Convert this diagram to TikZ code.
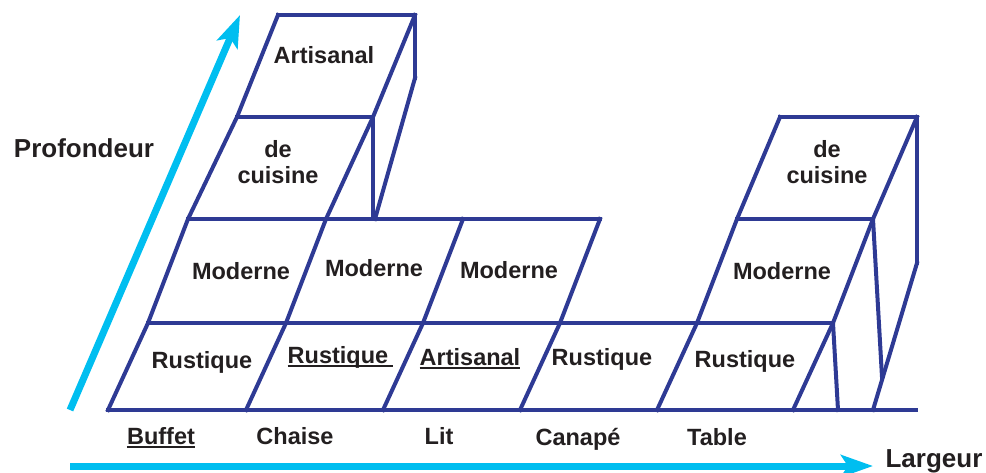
\documentclass[tikz,border=0pt]{standalone}
\usepackage{fontspec}
\setmainfont{Liberation Sans}
\usetikzlibrary{arrows.meta}
\definecolor{navy}{HTML}{2E3A94}
\definecolor{sky}{HTML}{00BEF0}
\definecolor{ink}{HTML}{231F20}
\begin{document}
\begin{tikzpicture}[x=1pt,y=-1pt,
  grid/.style={draw=navy,line width=4pt,line cap=rect,line join=miter,miter limit=3},
  lab/.style={font=\fontsize{23.5}{26}\selectfont\bfseries,text=ink,inner sep=0pt,anchor=base},
  ttl/.style={font=\fontsize{26}{28}\selectfont\bfseries,text=ink,inner sep=0pt,anchor=base},
  ul/.style={draw=ink,line width=1.5pt},
  axis/.style={draw=sky,line width=7pt,-{Stealth[length=32pt,width=22pt,inset=7pt]}}]
\useasboundingbox (0,0) rectangle (986,472);

% horizontal lines
\draw[grid] (108,410) -- (916,410);
\draw[grid] (148,323) -- (833,323);
\draw[grid] (188,219) -- (600,219);
\draw[grid] (737,219) -- (873,219);
\draw[grid] (237,117) -- (373,117);
\draw[grid] (780,117) -- (917,117);
\draw[grid] (278,15) -- (415,15);
% slanted dividers
\draw[grid] (108,410) -- (148,323) -- (188,219) -- (237,117) -- (278,15);
\draw[grid] (246,410) -- (286,323) -- (326,219) -- (373,117) -- (415,15);
\draw[grid] (383,410) -- (423,323) -- (463,219);
\draw[grid] (520,410) -- (560,323) -- (600,219);
\draw[grid] (657,410) -- (697,323) -- (737,219) -- (780,117);
\draw[grid] (793,410) -- (833,323) -- (873,219) -- (917,117);
% side faces
\draw[grid] (373,117) -- (373,219);
\draw[grid] (415,15) -- (415,78);
\draw[grid] (415,78) -- (375,219);
\draw[grid] (833,323) -- (838,410);
\draw[grid] (873,219) -- (882,377);
\draw[grid] (917,117) -- (917,263);
\draw[grid] (917,263) -- (873,410);

% axes
\coordinate (vs) at (70,410);
\coordinate (ve) at (240,15);
\coordinate (hs) at (70,466);
\coordinate (he) at (873,466);
\draw[axis] (vs) -- (ve);
\draw[axis] (hs) -- (he);
\node[ttl] (prof) at (84,157) {Profondeur};
\node[ttl] (larg) at (934,467) {Largeur};

% row 1
\node[lab] (r1) at (202,368) {Rustique};
\node[lab] (r2) at (338,363) {Rustique};
\node[lab] (r3) at (470,365) {Artisanal};
\node[lab] (r4) at (602,365) {Rustique};
\node[lab] (r5) at (745,367) {Rustique};
\draw[ul] ([yshift=-3pt]r2.base west) -- ([yshift=-3pt,xshift=5pt]r2.base east);
\draw[ul] ([yshift=-3pt]r3.base west) -- ([yshift=-3pt]r3.base east);
% row 2
\node[lab] (m1) at (241,279) {Moderne};
\node[lab] (m2) at (374,276) {Moderne};
\node[lab] (m3) at (509,278) {Moderne};
\node[lab] (m4) at (782,279) {Moderne};
% row 3
\node[lab] (d1) at (278,157) {de};
\node[lab] (c1) at (278,183) {cuisine};
\node[lab] (d2) at (827,157) {de};
\node[lab] (c2) at (827,183) {cuisine};
% row 4
\node[lab] (a1) at (324,63) {Artisanal};

% bottom labels
\node[lab] (b1) at (161,444) {Buffet};
\draw[ul] ([yshift=-3pt]b1.base west) -- ([yshift=-3pt]b1.base east);
\node[lab] (b2) at (295,444) {Chaise};
\node[lab] (b3) at (439,444) {Lit};
\node[lab] (b4) at (578,445) {Canapé};
\node[lab] (b5) at (717,445) {Table};
\end{tikzpicture}
\end{document}
